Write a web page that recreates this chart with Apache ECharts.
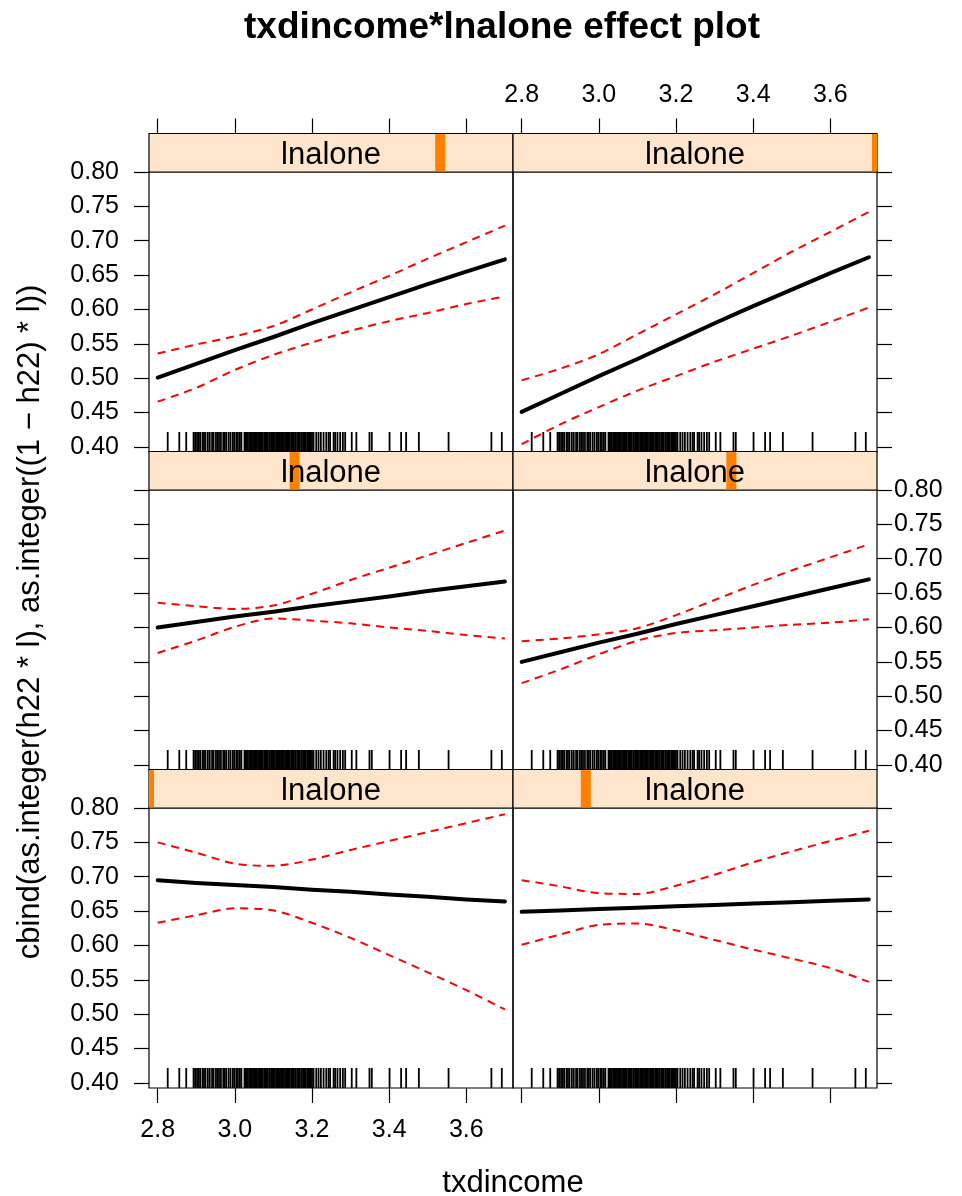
<!DOCTYPE html>
<html>
<head>
<meta charset="utf-8">
<script src="https://cdn.jsdelivr.net/npm/echarts@6/dist/echarts.min.js"></script>
<style>
  html, body { margin: 0; padding: 0; background: #fff; }
  #chart { width: 962px; height: 1196px; }
</style>
</head>
<body>
<div id="chart"></div>
<script>
// Effect of txdincome on the fitted probability, one panel per lnalone level.
const txdincome = [2.8, 2.9, 3.0, 3.1, 3.2, 3.3, 3.4, 3.5, 3.6, 3.7];

// level 1 (lowest lnalone)
const fit1   = [0.695, 0.691, 0.688, 0.685, 0.681, 0.678, 0.674, 0.671, 0.667, 0.664];
const lower1 = [0.633, 0.644, 0.654, 0.651, 0.633, 0.611, 0.586, 0.561, 0.535, 0.507];
const upper1 = [0.750, 0.735, 0.719, 0.716, 0.725, 0.739, 0.752, 0.765, 0.778, 0.791];
// level 2
const fit2   = [0.649, 0.651, 0.653, 0.655, 0.657, 0.659, 0.661, 0.663, 0.665, 0.667];
const lower2 = [0.601, 0.616, 0.630, 0.632, 0.622, 0.608, 0.594, 0.581, 0.567, 0.547];
const upper2 = [0.695, 0.686, 0.676, 0.675, 0.687, 0.703, 0.721, 0.737, 0.752, 0.767];
// level 3
const fit3   = [0.600, 0.608, 0.616, 0.623, 0.631, 0.638, 0.645, 0.653, 0.660, 0.667];
const lower3 = [0.563, 0.581, 0.601, 0.613, 0.610, 0.606, 0.600, 0.595, 0.589, 0.584];
const upper3 = [0.636, 0.631, 0.627, 0.632, 0.649, 0.669, 0.687, 0.705, 0.723, 0.741];
// level 4
const fit4   = [0.550, 0.564, 0.578, 0.591, 0.605, 0.618, 0.631, 0.644, 0.657, 0.670];
const lower4 = [0.519, 0.539, 0.561, 0.581, 0.592, 0.596, 0.600, 0.604, 0.607, 0.612];
const upper4 = [0.580, 0.584, 0.590, 0.599, 0.618, 0.640, 0.662, 0.683, 0.702, 0.721];
// level 5
const fit5   = [0.501, 0.521, 0.541, 0.560, 0.580, 0.599, 0.618, 0.637, 0.655, 0.673];
const lower5 = [0.466, 0.486, 0.512, 0.534, 0.552, 0.569, 0.583, 0.595, 0.608, 0.619];
const upper5 = [0.536, 0.549, 0.561, 0.576, 0.600, 0.625, 0.649, 0.674, 0.698, 0.722];
// level 6 (highest lnalone)
const fit6   = [0.451, 0.477, 0.503, 0.528, 0.554, 0.580, 0.605, 0.629, 0.653, 0.676];
const lower6 = [0.404, 0.433, 0.458, 0.482, 0.503, 0.524, 0.543, 0.562, 0.582, 0.603];
const upper6 = [0.497, 0.514, 0.535, 0.564, 0.593, 0.622, 0.653, 0.684, 0.713, 0.742];

// relative position of each lnalone level shown in the strip
const lnalonePos = [0.0, 0.2, 0.4, 0.6, 0.8, 1.0];

// observed txdincome values, drawn as a rug
const rugX = [
  2.826, 2.856, 2.874,
  2.893, 2.897, 2.902, 2.906, 2.910, 2.916, 2.920, 2.924, 2.930, 2.935, 2.941, 2.945,
  2.951, 2.955, 2.959, 2.964, 2.970, 2.974, 2.978, 2.984, 2.989, 2.995, 2.999, 3.004,
  3.008, 3.013, 3.017,
  3.025, 3.028, 3.031, 3.034, 3.038, 3.040, 3.044, 3.047, 3.050, 3.054, 3.056, 3.060,
  3.063, 3.066, 3.070, 3.072, 3.076, 3.079, 3.082, 3.085, 3.089, 3.091, 3.095, 3.098,
  3.101, 3.104, 3.108, 3.110, 3.114, 3.117, 3.120, 3.124, 3.126, 3.130, 3.133, 3.136,
  3.140, 3.142, 3.146, 3.149, 3.152, 3.156, 3.158, 3.162, 3.165, 3.168, 3.172, 3.174,
  3.178, 3.181, 3.184, 3.188, 3.190, 3.194, 3.197, 3.200,
  3.204, 3.211, 3.217, 3.223, 3.230, 3.237, 3.243, 3.247, 3.256, 3.260, 3.266, 3.273,
  3.280, 3.286,
  3.303, 3.315, 3.349, 3.355, 3.401, 3.431, 3.444, 3.477, 3.554, 3.665, 3.692
];

const xTicks = [2.8, 3.0, 3.2, 3.4, 3.6];
const yTicks = [0.40, 0.45, 0.50, 0.55, 0.60, 0.65, 0.70, 0.75, 0.80];

const fits = [fit1, fit2, fit3, fit4, fit5, fit6];
const lowers = [lower1, lower2, lower3, lower4, lower5, lower6];
const uppers = [upper1, upper2, upper3, upper4, upper5, upper6];

const FONT = '"Liberation Sans", Arial, Helvetica, sans-serif';
const X_MIN = 2.7775, X_MAX = 3.721, Y_MIN = 0.3927, Y_MAX = 0.80;
const COL_X = [149, 513], PANEL_W = 364;
const ROW_Y = [172, 490, 808], PANEL_H = 280, STRIP_H = 38.5;
const TICK_LEN = 15;

const grids = [], xAxes = [], yAxes = [], series = [], graphics = [];

const tickStyle = { color: '#000', width: 1.2 };
const labelBase = { fontSize: 25, color: '#000', fontFamily: FONT };

for (let k = 0; k < 6; k++) {
  const row = 2 - Math.floor(k / 2);
  const col = k % 2;
  const left = COL_X[col], top = ROW_Y[row];

  // panel
  grids.push({
    left: left, top: top, width: PANEL_W, height: PANEL_H,
    show: true, borderColor: '#000', borderWidth: 1.2, backgroundColor: 'transparent',
    containLabel: false, outerBoundsMode: 'none'
  });

  const xLabels = (row === 0 && col === 1) || (row === 2 && col === 0);
  xAxes.push({
    type: 'value', gridIndex: k, min: X_MIN, max: X_MAX,
    show: row !== 1,
    position: row === 0 ? 'top' : 'bottom',
    offset: row === 0 ? STRIP_H : 0,
    axisLine: { show: false }, splitLine: { show: false },
    axisTick: { show: true, inside: false, length: TICK_LEN, customValues: xTicks, lineStyle: tickStyle },
    axisLabel: Object.assign({ show: xLabels, customValues: xTicks, margin: row === 0 ? 26 : 30,
      formatter: v => v.toFixed(1) }, labelBase)
  });

  yAxes.push({
    type: 'value', gridIndex: k, min: Y_MIN, max: Y_MAX, position: 'left',
    show: col === 0,
    axisLine: { show: false }, splitLine: { show: false },
    axisTick: { show: true, inside: false, length: TICK_LEN, customValues: yTicks, lineStyle: tickStyle },
    axisLabel: Object.assign({ show: row !== 1, customValues: yTicks, margin: 30,
      formatter: v => v.toFixed(2) }, labelBase)
  });
  yAxes.push({
    type: 'value', gridIndex: k, min: Y_MIN, max: Y_MAX, position: 'right',
    show: col === 1,
    axisLine: { show: false }, splitLine: { show: false },
    axisTick: { show: true, inside: false, length: TICK_LEN, customValues: yTicks, lineStyle: tickStyle },
    axisLabel: Object.assign({ show: row === 1, customValues: yTicks, margin: 17,
      formatter: v => v.toFixed(2) }, labelBase)
  });

  const pts = arr => txdincome.map((x, i) => [x, arr[i]]);
  const dashed = { color: '#FF0000', width: 2, type: [8, 6] };

  [lowers[k], uppers[k]].forEach(arr => {
    series.push({
      type: 'line', xAxisIndex: k, yAxisIndex: 2 * k, data: pts(arr),
      showSymbol: false, symbol: 'none', smooth: 0.3,
      lineStyle: dashed, silent: true, z: 3
    });
  });
  series.push({
    type: 'line', xAxisIndex: k, yAxisIndex: 2 * k, data: pts(fits[k]),
    showSymbol: false, symbol: 'none', smooth: false,
    lineStyle: { color: '#000', width: 4, cap: 'round', join: 'round' }, silent: true, z: 4
  });

  // rug of observed values along the bottom of the panel
  series.push({
    type: 'custom', xAxisIndex: k, yAxisIndex: 2 * k,
    data: rugX.map(v => [v, Y_MIN]), silent: true, z: 2,
    renderItem: (params, api) => {
      const p = api.coord([api.value(0), api.value(1)]);
      return { type: 'line', shape: { x1: p[0], y1: p[1], x2: p[0], y2: p[1] - 20 },
               style: { stroke: '#000', lineWidth: 1.8 } };
    }
  });
}

// strips above each panel
for (let k = 0; k < 6; k++) {
  const row = 2 - Math.floor(k / 2);
  const col = k % 2;
  const left = COL_X[col], top = ROW_Y[row] - STRIP_H;
  const g = 6 + k;
  grids.push({
    left: left, top: top, width: PANEL_W, height: STRIP_H,
    show: true, backgroundColor: '#FFE5CC', borderColor: '#000', borderWidth: 1.2,
    containLabel: false, outerBoundsMode: 'none'
  });
  xAxes.push({ type: 'value', gridIndex: g, min: 0, max: 1, show: false });
  yAxes.push({ type: 'value', gridIndex: g, min: 0, max: 1, show: false });
  series.push({
    type: 'custom', xAxisIndex: g, yAxisIndex: 12 + k,
    data: [[lnalonePos[k], 0]], silent: true, z: 2,
    renderItem: (params, api) => {
      const c = api.coord([api.value(0), 0]);
      const cs = params.coordSys;
      const x0 = Math.max(c[0] - 5, cs.x);
      const x1 = Math.min(c[0] + 5, cs.x + cs.width);
      return { type: 'rect', shape: { x: x0, y: cs.y + 0.6, width: x1 - x0, height: cs.height - 1.2 },
               style: { fill: '#FF7F00' } };
    }
  });
  graphics.push({
    type: 'text', x: left + PANEL_W / 2, y: top + STRIP_H / 2 + 3, z: 100,
    style: { text: 'lnalone', font: '31px ' + FONT, fill: '#000',
             align: 'center', verticalAlign: 'middle', textAlign: 'center', textVerticalAlign: 'middle' }
  });
}

// titles
graphics.push({
  type: 'text', x: 502, y: 28, z: 100,
  style: { text: 'txdincome*lnalone effect plot', font: 'bold 37px ' + FONT, fill: '#000',
           align: 'center', verticalAlign: 'middle', textAlign: 'center', textVerticalAlign: 'middle' }
});
graphics.push({
  type: 'text', x: 513, y: 1183, z: 100,
  style: { text: 'txdincome', font: '31px ' + FONT, fill: '#000',
           align: 'center', verticalAlign: 'middle', textAlign: 'center', textVerticalAlign: 'middle' }
});
graphics.push({
  type: 'text', x: 30, y: 622, z: 100, rotation: Math.PI / 2,
  style: { text: 'cbind(as.integer(h22 * l), as.integer((1 \u2212 h22) * l))', font: '31px ' + FONT, fill: '#000',
           align: 'center', verticalAlign: 'middle', textAlign: 'center', textVerticalAlign: 'middle' }
});

const chart = echarts.init(document.getElementById('chart'), null, { renderer: 'canvas' });
chart.setOption({
  backgroundColor: '#fff',
  animation: false,
  grid: grids,
  xAxis: xAxes,
  yAxis: yAxes,
  series: series,
  graphic: { elements: graphics }
});
</script>
</body>
</html>
